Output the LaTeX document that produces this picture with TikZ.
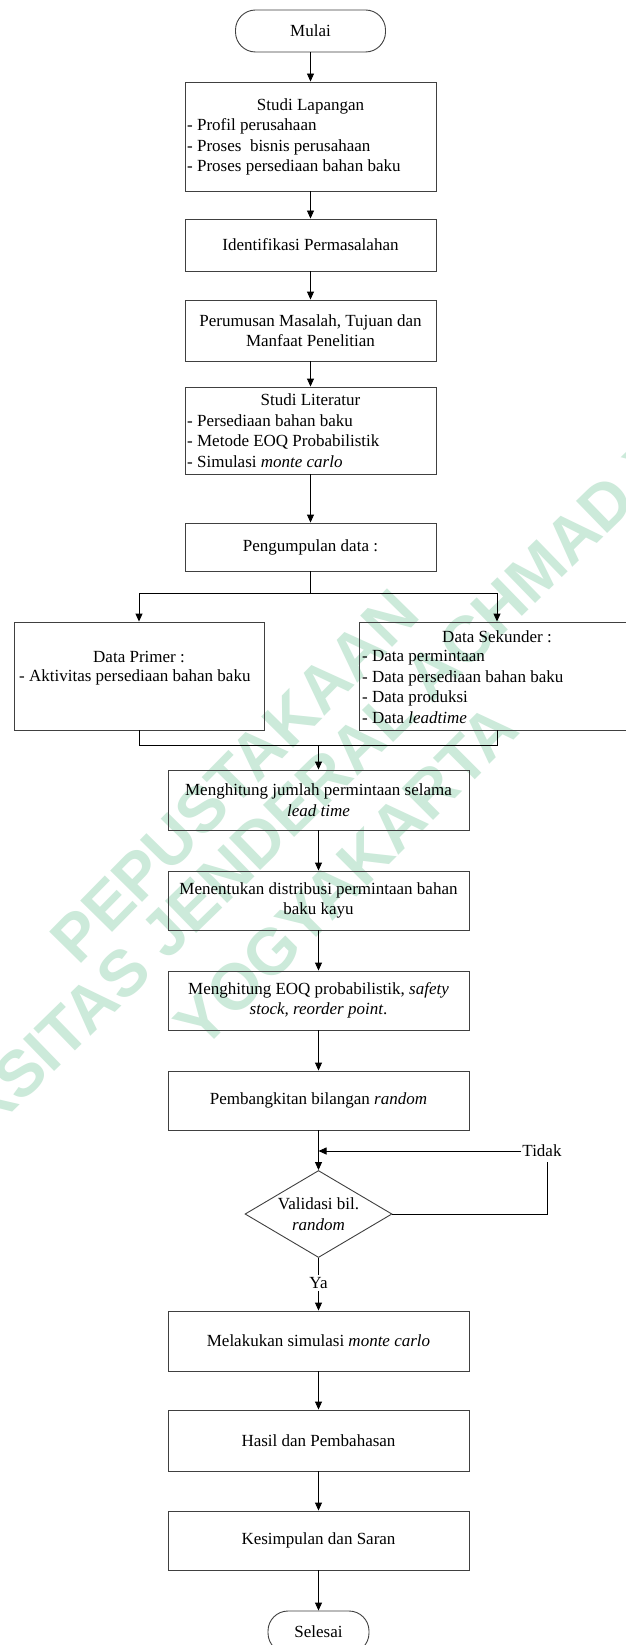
\documentclass[tikz,border=0pt]{standalone}
\usepackage{fontspec}
\setmainfont{Liberation Serif}
\newfontfamily\wmfont{Liberation Sans}
\usetikzlibrary{arrows.meta,shapes.geometric}
\definecolor{wm}{RGB}{204,234,218}
\definecolor{bd}{RGB}{64,64,64}
\begin{document}
\begin{tikzpicture}[x=1pt,y=-1pt,
  font=\fontsize{17}{20.4}\selectfont,
  box/.style={draw=bd, line width=0.9pt, rectangle, inner sep=2pt, align=center},
  term/.style={draw=bd, line width=0.9pt, rectangle, rounded corners=20pt, inner sep=2pt},
  txt/.style={inner sep=0pt, align=left},
  wmtext/.style={text=wm, inner sep=0pt, font=\fontsize{65}{65}\wmfont\bfseries},
  arr/.style={-{Triangle[length=8pt,width=7pt]}, line width=0.9pt, black},
  ln/.style={line width=0.9pt, black}]
\fill[white] (0,0) rectangle (625,1645);
\useasboundingbox (0,0) rectangle (625,1645);
% watermark
\node[wmtext, rotate=45.5] (wm1) at (234.5,776.5) {PEPUSTAKAAN};
\node[wmtext, rotate=44.2] (wm2) at (286,815) {UNIVERSITAS JENDERAL ACHMAD YANI};
\node[wmtext, rotate=45] (wm3) at (346.5,876) {YOGYAKARTA};
% top column
\node[term, minimum width=150pt, minimum height=42pt] (mulai) at (310.5,31) {Mulai};
\node[box, minimum width=251pt, minimum height=109pt] (sl) at (310.5,136.5) {};
\node[txt] (slt) at (310.5,106) {Studi Lapangan};
\node[txt, anchor=west] (sll) at (187,147) {- Profil perusahaan\\- Proses\ \ bisnis perusahaan\\- Proses persediaan bahan baku};
\node[box, minimum width=251pt, minimum height=52pt] (idf) at (310.5,245) {Identifikasi Permasalahan};
\node[box, minimum width=251pt, minimum height=61pt] (per) at (310.5,330.5) {Perumusan Masalah, Tujuan dan\\Manfaat Penelitian};
\node[box, minimum width=251pt, minimum height=87pt] (lit) at (310.5,430.5) {};
\node[txt] (litt) at (310.5,400) {Studi Literatur};
\node[txt, anchor=west] (litl) at (187,441) {- Persediaan bahan baku\\- Metode EOQ Probabilistik\\- Simulasi \textit{monte carlo}};
\node[box, minimum width=251pt, minimum height=48pt] (pgm) at (310.5,547) {Pengumpulan data :};
% data boxes
\node[box, minimum width=250pt, minimum height=108pt] (prim) at (139,676) {};
\node[txt] (primt) at (139,657) {Data Primer :};
\node[txt, anchor=west] (priml) at (19,677) {- Aktivitas persediaan bahan baku};
\node[box, minimum width=276pt, minimum height=108pt] (sek) at (497,676) {};
\node[txt] (sekt) at (497,637) {Data Sekunder :};
\node[txt, anchor=west] (sekl) at (362,687) {- Data permintaan\\- Data persediaan bahan baku\\- Data produksi\\- Data \textit{leadtime}};
% lower column
\node[box, minimum width=301pt, minimum height=60pt] (m1) at (318.5,800) {Menghitung jumlah permintaan selama\\\textit{lead time}};
\node[box, minimum width=301pt, minimum height=59pt] (m2) at (318.5,900.5) {Menentukan distribusi permintaan bahan\\baku kayu};
\node[box, minimum width=301pt, minimum height=59pt] (m3) at (318.5,1000.5) {Menghitung EOQ probabilistik, \textit{safety}\\\textit{stock, reorder point}.};
\node[box, minimum width=301pt, minimum height=59pt] (pb) at (318.5,1100.5) {Pembangkitan bilangan \textit{random}};
\node[draw=bd, line width=0.9pt, diamond, minimum width=147pt, minimum height=87pt, inner sep=0pt] (dia) at (318.5,1214) {};
\node[txt, align=center] (diat) at (318.5,1214) {Validasi bil.\\\textit{random}};
\node[inner sep=2pt] (ya) at (318.5,1283) {Ya};
\node[inner sep=1pt] (tidak) at (542,1151) {Tidak};
\coordinate (tk) at (547,1162);
\node[box, minimum width=301pt, minimum height=60pt] (mel) at (318.5,1341) {Melakukan simulasi \textit{monte carlo}};
\node[box, minimum width=301pt, minimum height=61pt] (has) at (318.5,1440.5) {Hasil dan Pembahasan};
\node[box, minimum width=301pt, minimum height=59pt] (kes) at (318.5,1540.5) {Kesimpulan dan Saran};
\node[term, minimum width=101pt, minimum height=42pt] (sel) at (318.5,1632) {Selesai};
% connectors
\draw[arr] (mulai.south) -- (sl.north);
\draw[arr] (sl.south) -- (idf.north);
\draw[arr] (idf.south) -- (per.north);
\draw[arr] (per.south) -- (lit.north);
\draw[arr] (lit.south) -- (pgm.north);
\coordinate (br) at (310.5,593);
\draw[ln] (pgm.south) -- (br);
\draw[arr] (br) -| (prim.north);
\draw[arr] (br) -| (sek.north);
\coordinate (mg) at (318.5,745);
\draw[ln] (prim.south) |- (mg);
\draw[ln] (sek.south) |- (mg);
\draw[arr] (mg) -- (m1.north);
\draw[arr] (m1.south) -- (m2.north);
\draw[arr] (m2.south) -- (m3.north);
\draw[arr] (m3.south) -- (pb.north);
\draw[arr] (pb.south) -- (dia.north);
\draw[ln] (dia.east) -| (tk);
\draw[arr] (tidak.west) -- (pb.south |- tidak.west);
\draw[ln] (dia.south) -- (ya.north);
\draw[arr] (ya.south) -- (mel.north);
\draw[arr] (mel.south) -- (has.north);
\draw[arr] (has.south) -- (kes.north);
\draw[arr] (kes.south) -- (sel.north);
\end{tikzpicture}
\end{document}
